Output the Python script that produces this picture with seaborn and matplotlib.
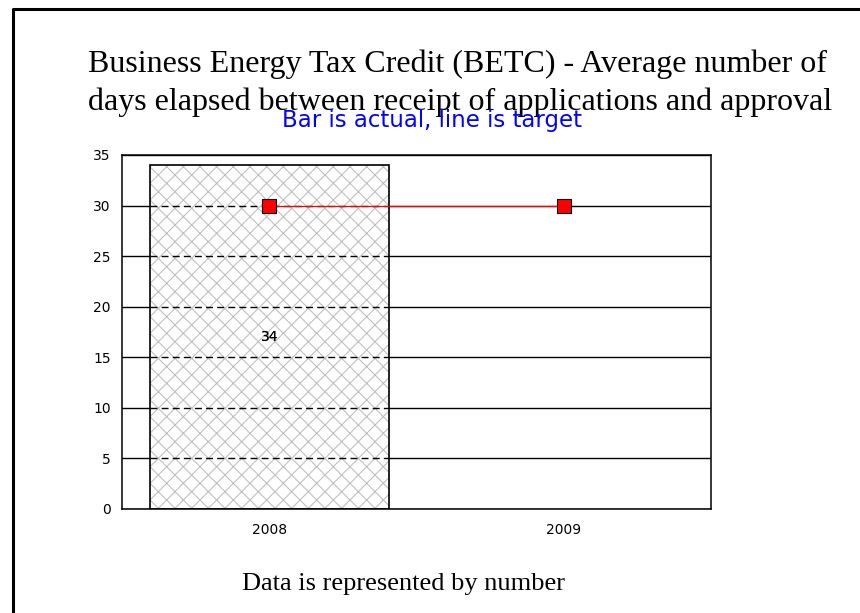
import numpy as np
import matplotlib
matplotlib.use("Agg")
import matplotlib.pyplot as plt
from matplotlib.lines import Line2D
import seaborn as sns

YEARS = ["2008", "2009"]
ACTUAL = [34, np.nan]
TARGET = [30, 30]
Y_TICKS = [0, 5, 10, 15, 20, 25, 30, 35]

TITLE_1 = "Business Energy Tax Credit (BETC) - Average number of"
TITLE_2 = "days elapsed between receipt of applications and approval"
SUBTITLE = "Bar is actual, line is target"
FOOTER = "Data is represented by number"

sns.set_style("white")
plt.rcParams["font.family"] = ["DejaVu Sans"]
plt.rcParams["text.color"] = "black"
plt.rcParams["xtick.color"] = "black"
plt.rcParams["ytick.color"] = "black"
plt.rcParams["hatch.linewidth"] = 0.8

fig = plt.figure(figsize=(8.6, 6.13), dpi=100)
ax = fig.add_axes([0.1419, 0.1697, 0.6849, 0.5775])

# hatched fill, then black outline over it
sns.barplot(x=YEARS, y=ACTUAL, ax=ax, color="white", saturation=1,
            edgecolor="#c0c0c0", linewidth=0, hatch="xx", width=0.81, zorder=2)
sns.barplot(x=YEARS, y=ACTUAL, ax=ax, fill=False, color="black",
            linewidth=1.2, width=0.81, zorder=3)

# gridlines look dashed where they cross the bar
bar = ax.patches[0]
grid_vals = [t for t in Y_TICKS if 0 < t < 35]
ax.hlines(grid_vals, bar.get_x(), bar.get_x() + bar.get_width(),
          colors="black", linestyles=(0, (5, 3)), linewidth=1.0, zorder=2.5)

# value label in the middle of each drawn bar
for p in ax.patches[:len(ACTUAL)]:
    h = p.get_height()
    if np.isfinite(h):
        ax.text(p.get_x() + p.get_width() / 2, h / 2, f"{h:g}",
                ha="center", va="center", fontsize=10, color="black", zorder=5)

sns.pointplot(x=YEARS, y=TARGET, ax=ax, color="red", markers="s",
              markersize=10, markeredgecolor="black", markeredgewidth=0.8,
              linewidth=0.9, zorder=4)

ax.set_ylim(0, 35)
ax.set_yticks(Y_TICKS)
ax.yaxis.grid(True, color="black", linewidth=1.0)
ax.set_axisbelow(True)
ax.set_xlabel("")
ax.set_ylabel("")
ax.tick_params(axis="y", length=0, pad=8, labelsize=10, labelcolor="black")
ax.tick_params(axis="x", length=0, pad=10, labelsize=10, labelcolor="black")
for s in ax.spines.values():
    s.set_color("black")
    s.set_linewidth(1.1)

fig.text(88 / 860, 1 - 72 / 613, TITLE_1, family="Liberation Serif", fontsize=23,
         ha="left", va="baseline", color="black")
fig.text(88 / 860, 1 - 110 / 613, TITLE_2, family="Liberation Serif", fontsize=23,
         ha="left", va="baseline", color="black")
fig.text(432 / 860, 1 - 127 / 613, SUBTITLE, color="#0000ff", fontsize=16.5,
         ha="center", va="baseline")
fig.text(404 / 860, 1 - 590 / 613, FOOTER, family="Liberation Serif", fontsize=19,
         ha="center", va="baseline", color="black")

# frame on the left and top edges
fig.add_artist(Line2D([12.5 / 860, 12.5 / 860, 1], [0, 1 - 8.5 / 613, 1 - 8.5 / 613],
                      transform=fig.transFigure, color="black", linewidth=2.2))

fig.savefig("out.png", dpi=100)
